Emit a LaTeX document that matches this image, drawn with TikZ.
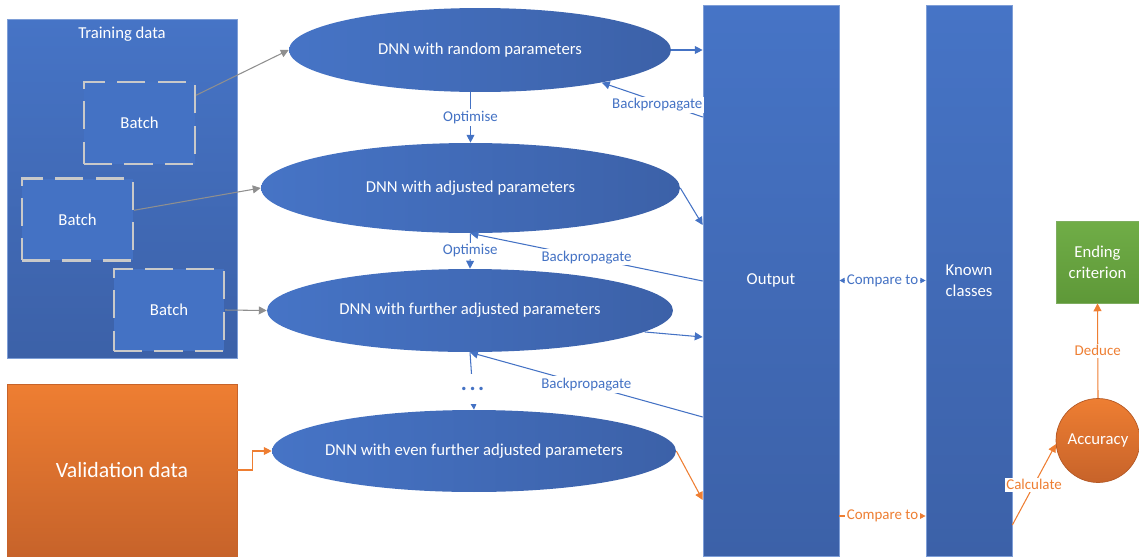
\documentclass[tikz,border=0pt]{standalone}
\usepackage{fontspec}
\setmainfont{Carlito}
\usetikzlibrary{shapes.geometric,arrows.meta,calc}
\definecolor{blueA}{HTML}{4674C6}
\definecolor{blueB}{HTML}{3C61A8}
\definecolor{blueLine}{HTML}{4472C4}
\definecolor{orangeA}{HTML}{EE7E32}
\definecolor{orangeB}{HTML}{C7632A}
\definecolor{greenA}{HTML}{70AD47}
\definecolor{greenB}{HTML}{5E9838}
\definecolor{dashgrey}{HTML}{C9C9C9}
\definecolor{linegrey}{HTML}{8F8F8F}
\begin{document}
\begin{tikzpicture}[x=0.02cm,y=-0.02cm,
  txt/.style={font=\fontsize{9.5}{12}\selectfont,text=white,align=center},
  panel/.style={rectangle,draw=blueA!70!white,line width=0.4pt,top color=blueA,bottom color=blueB,inner sep=0pt},
  batchbox/.style={rectangle,fill=blueLine,draw=dashgrey,line width=1.2pt,dash pattern=on 16pt off 7pt,
    minimum width=2.22cm,minimum height=1.64cm,inner sep=0pt,txt},
  dnn/.style={ellipse,left color=blueA,right color=blueB,inner sep=0pt},
  dnntext/.style={txt},
  lbl/.style={font=\fontsize{8.5}{10}\selectfont,fill=white,inner sep=1pt},
  bl/.style={draw=blueLine,line width=0.6pt},
  orl/.style={draw=orangeA,line width=0.6pt},
  gl/.style={draw=linegrey,line width=0.6pt},
  ar/.style={-{Triangle[length=4.5pt,width=4.5pt]}},
  smallboth/.style={{Triangle[length=3pt,width=3pt]}-{Triangle[length=3pt,width=3pt]}}
]
\useasboundingbox (0,0) rectangle (1139,558);

% helper heights for connector ends
\foreach \y in {117,225,281,337,417,500,516,525} \coordinate (h\y) at (0,\y);

% training data and its batches
\node[panel,minimum width=4.6cm,minimum height=6.78cm] (train) at (122,188.5) {};
\node[txt] (traintitle) at (122,34) {Training data};
\node[batchbox] (b1) at (139.5,123) {Batch};
\node[batchbox] (b2) at (77.5,219.5) {Batch};
\node[batchbox,minimum width=2.2cm] (b3) at (169,310) {Batch};

% validation data
\node[rectangle,top color=orangeA,bottom color=orangeB,draw=orangeB,line width=0.4pt,
  minimum width=4.6cm,minimum height=3.44cm,inner sep=0pt,text=white,
  font=\fontsize{12.4}{14}\selectfont] (val) at (122,470) {Validation data};

% networks
\node[dnn,minimum width=7.64cm,minimum height=1.68cm,
  label={[dnntext]center:DNN with random parameters}] (e1) at (480,50) {};
\node[dnn,minimum width=8.38cm,minimum height=1.8cm,
  label={[dnntext]center:DNN with adjusted parameters}] (e2) at (470.5,188) {};
\node[dnn,minimum width=8.12cm,minimum height=1.66cm,
  label={[dnntext]center:DNN with further adjusted parameters}] (e3) at (470,310.5) {};
\node[dnn,minimum width=8.08cm,minimum height=1.64cm,
  label={[dnntext]center:DNN with even further adjusted parameters}] (e4) at (474,451) {};

% output and known classes
\node[panel,minimum width=2.72cm,minimum height=11.02cm,txt] (out) at (771,280.5) {Output};
\node[panel,minimum width=1.72cm,minimum height=11.02cm,txt] (known) at (969,280.5) {Known\\classes};

% ending criterion and accuracy
\node[rectangle,top color=greenA,bottom color=greenB,draw=greenB!80!white,line width=0.4pt,
  minimum width=1.66cm,minimum height=1.64cm,inner sep=0pt,txt] (end) at (1097.5,262) {Ending\\criterion};
\node[circle,top color=orangeA,bottom color=orangeB,draw=orangeB!90!black,line width=0.4pt,
  minimum size=1.68cm,inner sep=0pt,txt] (acc) at (1098,440.5) {Accuracy};

% batches feed the networks
\draw[gl,ar] ($(b1.north east)!0.17!(b1.south east)$) -- (e1.west);
\draw[gl,ar] ($(b2.north east)!0.39!(b2.south east)$) -- (e2.west);
\draw[gl,ar] (b3.east) -- (e3.west);

% training loop
\draw[bl,ar] (e1.east) -- (e1.east -| out.west);
\draw[bl,ar] (e1.south -| e2.north) -- node[lbl,text=blueLine]{Optimise} (e2.north);
\draw[bl,ar] (out.west |- h117) -- node[lbl,text=blueLine,pos=0.45,yshift=-2pt]{Backpropagate} (e1.-15);
\draw[bl,ar] (e2.east) -- (out.west |- h225);
\draw[bl,ar] (out.west |- h281) -- node[lbl,text=blueLine]{Backpropagate} (e2.south);
\draw[bl,ar] (e2.south) -- node[lbl,text=blueLine]{Optimise} (e3.north);
\draw[bl,ar] (e3.-7) -- (out.west |- h337);
\draw[bl,ar] (out.west |- h417) -- node[lbl,text=blueLine]{Backpropagate} (e3.south);
\draw[bl,ar] (e3.south) -- node[lbl,text=blueLine,pos=0.64,minimum height=0.6cm,
  font=\bfseries\fontsize{13}{13}\selectfont]{.\kern1.5pt.\kern1.5pt.} (e4.north);
\draw[bl,smallboth] (out.east) -- node[lbl,text=blueLine]{Compare to} (known.west);

% validation path
\draw[orl,ar] (val.east) -- ++(15,0) |- (e4.west);
\draw[orl,ar] (e4.east) -- (out.west |- h500);
\draw[orl,ar] (out.east |- h516) -- node[lbl,text=orangeA]{Compare to} (known.west |- h516);
\draw[orl,ar] (known.east |- h525) -- node[lbl,text=orangeA]{Calculate} (acc.185);
\draw[orl,ar] (acc.north) -- node[lbl,text=orangeA]{Deduce} (end.south);
\end{tikzpicture}
\end{document}
